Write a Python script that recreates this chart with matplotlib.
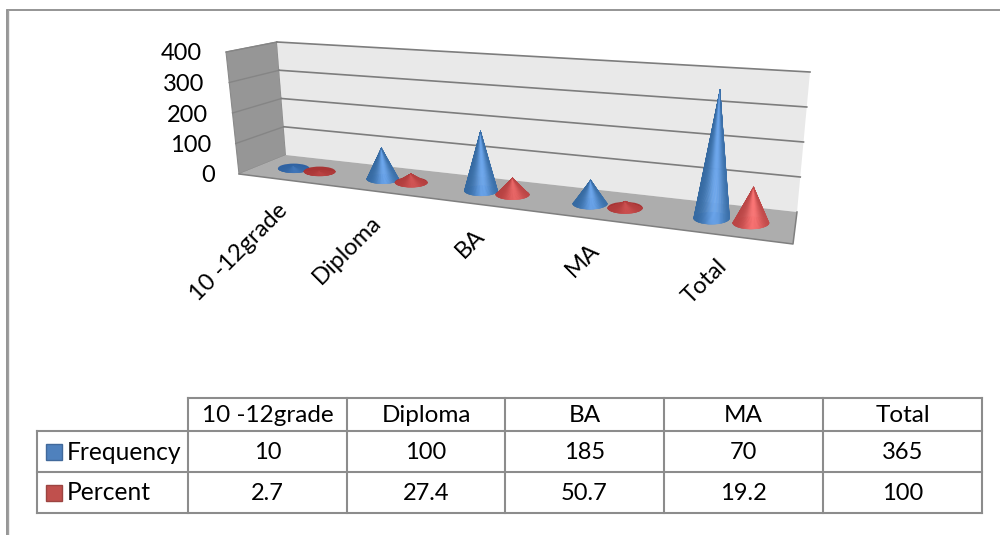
import matplotlib
matplotlib.use("Agg")
import matplotlib.pyplot as plt
from matplotlib.collections import PolyCollection
from matplotlib.patches import Polygon, Ellipse, Rectangle
import numpy as np

plt.rcParams['font.family'] = ['Lato', 'DejaVu Sans']

# Survey data
categories = ["10 -12grade", "Diploma", "BA", "MA", "Total"]
frequency = [10, 100, 185, 70, 365]
percent = [2.7, 27.4, 50.7, 19.2, 100]
frequency_labels = ["10", "100", "185", "70", "365"]
percent_labels = ["2.7", "27.4", "50.7", "19.2", "100"]
y_ticks = [0, 100, 200, 300, 400]

# Box corners of the 3D plot area on the page
FLOOR_FL = np.array([239.0, 174.0])
FLOOR_FR = np.array([793.0, 244.0])
FLOOR_BL = np.array([286.0, 155.0])
FLOOR_BR = np.array([797.0, 212.0])
RISE_FL = np.array([-13.0, -122.0])
RISE_FR = np.array([13.0, -150.0])
RISE_BL = np.array([-9.0, -113.0])
RISE_BR = np.array([13.0, -140.0])
Y_MAX = 400.0
PERSPECTIVE = 1.3


def project(u, v, value):
    """Map width u, depth v (0 front, 1 back) and a value to page position."""
    floor = (1 - v) * ((1 - u) * FLOOR_FL + u * FLOOR_FR) + v * ((1 - u) * FLOOR_BL + u * FLOOR_BR)
    rise = (1 - v) * ((1 - u) * RISE_FL + u * RISE_FR) + v * ((1 - u) * RISE_BL + u * RISE_BR)
    return floor + rise * value / Y_MAX


def warp(s):
    return s / (s + PERSPECTIVE * (1 - s))


def mix(a, b, t):
    return tuple(np.array(a) * (1 - t) + np.array(b) * t)


def hex_rgb(h):
    return matplotlib.colors.to_rgb(h)


def draw_cone(ax, u, value, edge_col, mid_col, flat_col):
    base = project(u, 0.5, 0)
    apex = project(u, 0.5, value)
    rx = 15.5 + 3.0 * u
    ry = 4.5 + 2.0 * u
    height = base[1] - apex[1]
    ax.add_patch(Ellipse(base, 2 * rx, 2 * ry, fc=flat_col, ec="none", zorder=3))
    t = np.linspace(np.pi, 0, 61)
    xs = base[0] + rx * np.cos(t)
    ys = base[1] + ry * np.sin(t)
    tris, cols = [], []
    vivid = min(1.0, height / 22.0)
    for i in range(len(t) - 1):
        tris.append([apex, (xs[i], ys[i]), (xs[i + 1], ys[i + 1])])
        p = np.cos((t[i] + t[i + 1]) / 2)
        glow = np.exp(-((p - 0.15) / 0.6) ** 2)
        col = mix(edge_col, mid_col, glow)
        cols.append(mix(flat_col, col, 0.2 + 0.8 * vivid))
    ax.add_collection(PolyCollection(tris, facecolors=cols, edgecolors=cols, linewidths=0.3, zorder=3))


fig = plt.figure(figsize=(10, 5.35), dpi=100)
ax = fig.add_axes([0, 0, 1, 1])
ax.set_xlim(0, 1000)
ax.set_ylim(535, 0)
ax.axis("off")

# Outer chart frame
ax.plot([7, 7, 1000], [535, 10, 10], color="#8c8c8c", lw=1.3, solid_joinstyle="miter")
ax.plot([7.5, 7.5], [10, 535], color="#a0a0a0", lw=1.0)

# Walls and floor
side = [project(0, 0, 0), project(0, 1, 0), project(0, 1, Y_MAX), project(0, 0, Y_MAX)]
back = [project(0, 1, 0), project(1, 1, 0), project(1, 1, Y_MAX), project(0, 1, Y_MAX)]
floor = [project(0, 0, 0), project(1, 0, 0), project(1, 1, 0), project(0, 1, 0)]
ax.add_patch(Polygon(side, fc="#969696", ec="#8a8a8a", lw=0.8))
ax.add_patch(Polygon(back, fc="#e9e9e9", ec="none"))
ax.add_patch(Polygon(floor, fc="#adadad", ec="none"))

# Floor front and right edges
ax.plot(*zip(project(0, 0, 0), project(1, 0, 0), project(1, 1, 0)), color="#7f7f7f", lw=1.1)

for tick in y_ticks[1:]:
    p0, p1, p2 = project(0, 0, tick), project(0, 1, tick), project(1, 1, tick)
    ax.plot(*zip(p0, p1), color="#858585", lw=1.0)
    ax.plot(*zip(p1, p2), color="#7d7d7d", lw=1.2)

# Value axis labels follow the front edge of the side wall
for tick in y_ticks:
    p = project(0, 0, tick)
    ax.text(p[0] - 24.5, p[1] + 2, str(tick), ha="right", va="center", fontsize=17, color="#000000")

# Cones, left to right so nearer neighbours overlap
for i in range(len(categories)):
    s_blue = (i * 0.2) + 0.075
    s_red = s_blue + 0.06
    draw_cone(ax, warp(s_blue), frequency[i], hex_rgb("#34689f"), hex_rgb("#6ca6ec"), hex_rgb("#2f62a3"))
    draw_cone(ax, warp(s_red), percent[i], hex_rgb("#b84444"), hex_rgb("#fb7575"), hex_rgb("#a83434"))

# Rotated category labels, anchored at their upper right ends
for i, name in enumerate(categories):
    u = warp(i * 0.2 + 0.10)
    p = project(u, 0, 0)
    ax.text(p[0] + 1, p[1] + 28, name, rotation=45, rotation_mode="anchor",
            ha="right", va="center", fontsize=17, color="#000000")

# Data table with legend keys
col_edges = [188, 347, 505, 664, 823, 982]
row_edges = [398, 431, 472, 513]
table_left = 37
line_kw = dict(color="#8c8c8c", lw=1.5, solid_capstyle="projecting")
ax.plot([col_edges[0], col_edges[-1]], [row_edges[0]] * 2, **line_kw)
for y in row_edges[1:]:
    ax.plot([table_left, col_edges[-1]], [y, y], **line_kw)
ax.plot([table_left, table_left], [row_edges[1], row_edges[3]], **line_kw)
for x in col_edges:
    ax.plot([x, x], [row_edges[0], row_edges[-1]], **line_kw)

rows = [categories, frequency_labels, percent_labels]
for r, texts in enumerate(rows):
    yc = (row_edges[r] + row_edges[r + 1]) / 2 + 1
    size = 17.5 if r == 0 else 17
    for c, txt in enumerate(texts):
        xc = (col_edges[c] + col_edges[c + 1]) / 2
        ax.text(xc, yc, txt, ha="center", va="center", fontsize=size, color="#000000")

series_names = ["Frequency", "Percent"]
series_keys = [("#4f81bd", "#41699b"), ("#c0504d", "#9c4441")]
for r, (name, (fc, ec)) in enumerate(zip(series_names, series_keys), start=1):
    yc = (row_edges[r] + row_edges[r + 1]) / 2
    ax.add_patch(Rectangle((45.5, yc - 8), 16, 16, fc=fc, ec=ec, lw=1.0))
    ax.text(67, yc + 0.5, name, ha="left", va="center", fontsize=17.7, color="#000000")

fig.savefig("out.png", dpi=100, facecolor="white")
